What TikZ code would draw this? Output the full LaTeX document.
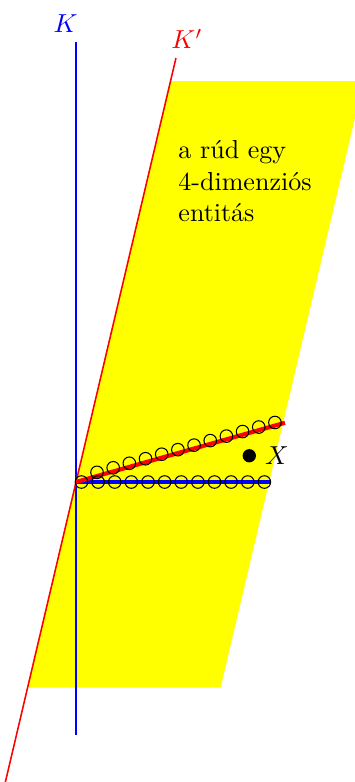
\documentclass[tikz,border=0pt]{standalone}
\usepackage{amsmath, amssymb}
\usepackage{xcolor}
\usepackage{tikz}
\usetikzlibrary{arrows.meta, positioning, calc}
\definecolor{worldyellow}{RGB}{255, 255, 0}
\definecolor{frameblue}{RGB}{0, 0, 255}
\definecolor{framered}{RGB}{255, 0, 0}

\begin{document}
\begin{tikzpicture}[>=Stealth, atom/.style={draw=black, line width=0.4pt}]
  \useasboundingbox (-1.027,-4.054) rectangle (3.77,6.514);
  \clip (-1.027,-4.054) rectangle (3.77,6.514);
  % world strip of the rod
  \fill[worldyellow] (-0.656,-2.78) -- (1.278,5.419) -- (3.888,5.419) -- (1.954,-2.78) -- cycle;
  \draw[frameblue, semithick] (0,-3.42) -- (0,5.95) coordinate (Ktop);
  \node[frameblue, above] (K) at ($(Ktop)+(-0.14,0)$) {$K$};
  \draw[framered, semithick] (-0.97,-4.12) -- (1.351,5.73) coordinate (Kptop);
  \node[framered, above] (Kp) at ($(Kptop)+(0.15,0)$) {$K'$};
  \node[anchor=north west, align=left, inner sep=0pt] (entity) at (1.378,4.62) {a rúd egy\\4-dimenziós\\entitás};
  % the rod in both frames
  \coordinate (O) at (0,0);
  \coordinate (blueend) at (2.62,0);
  \coordinate (redend) at (2.824,0.801);
  \draw[frameblue, line width=1.5pt] (O) -- (blueend);
  \draw[framered, line width=1.6pt] (O) -- (redend);
  \foreach \i in {0,...,11} {
    \draw[atom] (0.074+\i*0.2247,0) circle (0.085);
    \draw[atom] (0.284+\i*0.2186,0.131+\i*0.0612) circle (0.085);
  }
  \fill (2.342,0.355) circle (0.09) coordinate (Xdot);
  \node[right] (X) at (2.432,0.355) {$X$};
\end{tikzpicture}
\end{document}
